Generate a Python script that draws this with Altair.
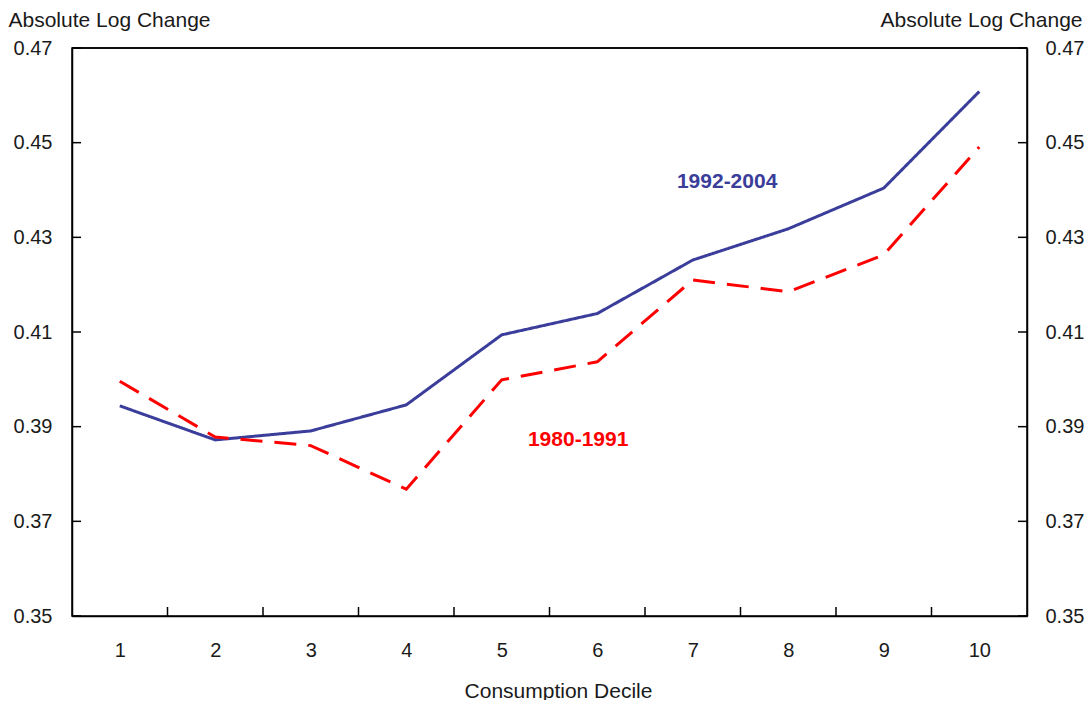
import altair as alt
import pandas as pd

deciles = [1, 2, 3, 4, 5, 6, 7, 8, 9, 10]
series_1992_2004 = [0.3944, 0.3872, 0.3891, 0.3946, 0.4094, 0.4139, 0.4252, 0.4318, 0.4404, 0.4608]
series_1980_1991 = [0.3996, 0.3878, 0.3860, 0.3768, 0.3999, 0.4037, 0.4210, 0.4185, 0.4263, 0.4491]
y_ticks = [0.35, 0.37, 0.39, 0.41, 0.43, 0.45, 0.47]
x_between = [1.5, 2.5, 3.5, 4.5, 5.5, 6.5, 7.5, 8.5, 9.5]
label_text = ["1992-2004", "1980-1991"]
label_x = [7.36, 5.80]
label_y = [0.4417, 0.3872]
label_color = ["#3a3d9a", "#ff0000"]

FONT = "Liberation Sans"
W, H = 955, 568

df = pd.DataFrame({
    "decile": deciles * 2,
    "value": series_1992_2004 + series_1980_1991,
    "series": ["1992-2004"] * 10 + ["1980-1991"] * 10,
})
df_yt = pd.DataFrame({"v": y_ticks})
df_xt = pd.DataFrame({"d": x_between})
df_lab = pd.DataFrame({"t": label_text, "x": label_x, "y": label_y, "c": label_color})

xscale = alt.Scale(domain=[0.5, 10.5], nice=False, zero=False)
yscale = alt.Scale(domain=[0.35, 0.47], nice=False, zero=False)

x_axis = alt.Axis(values=deciles, format="d", tickSize=0, grid=False, labelFont=FONT,
                  labelFontSize=20, labelColor="#1a1a1a", labelPadding=24,
                  domainColor="black", domainWidth=1.5,
                  title="Consumption Decile", titleFont=FONT, titleFontSize=21,
                  titleFontWeight="normal", titleColor="#1a1a1a",
                  titleX=486, titleY=75, titleBaseline="middle", titleAlign="center")

left_axis = alt.Axis(values=y_ticks, format=".2f", tickSize=0, grid=False,
                     labelFont=FONT, labelFontSize=20, labelColor="#1a1a1a", labelPadding=20,
                     domainColor="black", domainWidth=1.5,
                     title="Absolute Log Change", titleFont=FONT, titleFontSize=21,
                     titleFontWeight="normal", titleColor="#1a1a1a", titleAngle=0,
                     titleAlign="left", titleBaseline="middle", titleX=-64, titleY=-28)

right_axis = alt.Axis(orient="right", values=y_ticks, format=".2f", tickSize=0, grid=False,
                      labelFont=FONT, labelFontSize=20, labelColor="#1a1a1a", labelPadding=18,
                      domainColor="black", domainWidth=1.5,
                      title="Absolute Log Change", titleFont=FONT, titleFontSize=21,
                      titleFontWeight="normal", titleColor="#1a1a1a", titleAngle=0,
                      titleAlign="left", titleBaseline="middle", titleX=-147, titleY=-28)

lines = alt.Chart(df).mark_line(strokeWidth=3).encode(
    x=alt.X("decile:Q", scale=xscale, axis=x_axis),
    y=alt.Y("value:Q", scale=yscale, axis=left_axis),
    color=alt.Color("series:N", scale=alt.Scale(domain=["1992-2004", "1980-1991"],
                                                range=["#3a3d9a", "#ff0000"]), legend=None),
    strokeDash=alt.StrokeDash("series:N", scale=alt.Scale(domain=["1992-2004", "1980-1991"],
                                                          range=[[1, 0], [22, 12]]), legend=None),
)

left_ticks = alt.Chart(df_yt).mark_rule(color="black", strokeWidth=1.5).encode(
    y=alt.Y("v:Q", scale=yscale, axis=left_axis),
    x=alt.value(0), x2=alt.value(9),
)

right_ticks = alt.Chart(df_yt).mark_rule(color="black", strokeWidth=1.5).encode(
    y=alt.Y("v:Q", scale=yscale, axis=right_axis),
    x=alt.value(W - 9), x2=alt.value(W),
)

x_ticks = alt.Chart(df_xt).mark_rule(color="black", strokeWidth=1.5).encode(
    x=alt.X("d:Q", scale=xscale, axis=x_axis),
    y=alt.value(H - 9), y2=alt.value(H),
)

top_border = alt.Chart(pd.DataFrame({"v": [y_ticks[-1]]})).mark_rule(
    color="black", strokeWidth=1.5).encode(
    y=alt.Y("v:Q", scale=yscale, axis=left_axis),
    x=alt.value(0), x2=alt.value(W),
)

labels = alt.Chart(df_lab).mark_text(font=FONT, fontSize=21, fontWeight="bold",
                                     align="center", baseline="middle").encode(
    x=alt.X("x:Q", scale=xscale, axis=x_axis),
    y=alt.Y("y:Q", scale=yscale, axis=left_axis),
    color=alt.Color("c:N", scale=None, legend=None),
    text="t:N",
)

left_layer = alt.layer(lines, left_ticks, x_ticks, top_border, labels)
chart = alt.layer(left_layer, right_ticks).resolve_axis(y="independent").resolve_scale(
    y="shared", color="independent", strokeDash="independent"
).properties(
    width=W, height=H,
    background="white",
    autosize=alt.AutoSizeParams(type="none"),
    padding={"left": 64, "top": 40, "right": 57, "bottom": 84},
).configure_view(stroke="black", strokeWidth=1.5)

chart.save("out.html", embed_options={"renderer": "svg", "actions": False})
